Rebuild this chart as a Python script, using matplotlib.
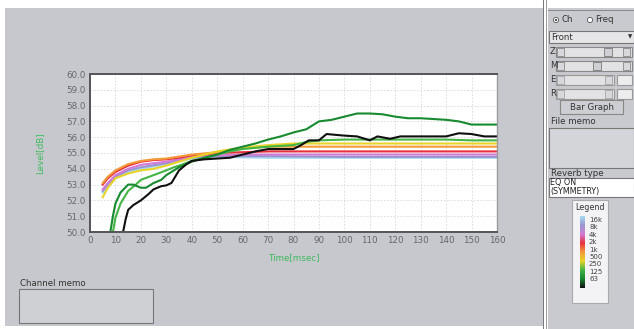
import matplotlib
matplotlib.use("Agg")
import matplotlib.pyplot as plt
from matplotlib.patches import Rectangle, Circle
from matplotlib.colors import LinearSegmentedColormap
import numpy as np

W, H = 634, 329

# --- data ---
bands = ["16k", "8k", "4k", "2k", "1k", "500", "250", "125", "63"]
band_colors = ["#a6d8f2", "#9a96d0", "#d27ad6", "#e8303c", "#f29a3a",
               "#e8d428", "#44b444", "#188a30", "#101010"]

t_16k = [5, 7, 10, 15, 20, 30, 40, 50, 70, 100, 160]
l_16k = [52.5, 52.9, 53.4, 53.8, 54.0, 54.3, 54.65, 54.75, 54.7, 54.7, 54.7]

t_8k = [5, 7, 10, 15, 20, 30, 40, 50, 70, 100, 160]
l_8k = [52.6, 53.0, 53.5, 53.9, 54.1, 54.35, 54.7, 54.8, 54.8, 54.75, 54.75]

t_4k = [5, 7, 10, 15, 20, 25, 30, 40, 50, 60, 100, 160]
l_4k = [52.7, 53.1, 53.6, 54.0, 54.25, 54.35, 54.45, 54.75, 54.85, 54.9, 54.9, 54.9]

t_2k = [5, 7, 10, 15, 20, 25, 30, 35, 40, 45, 50, 60, 70, 120, 160]
l_2k = [53.0, 53.4, 53.8, 54.2, 54.45, 54.55, 54.6, 54.7, 54.85, 54.9, 55.0,
        55.05, 55.1, 55.1, 55.1]

t_1k = [5, 7, 10, 15, 20, 25, 30, 40, 50, 60, 70, 80, 160]
l_1k = [53.1, 53.5, 53.9, 54.3, 54.5, 54.6, 54.65, 54.9, 55.05, 55.3, 55.4, 55.4, 55.4]

t_500 = [5, 7, 10, 15, 20, 25, 30, 40, 50, 60, 70, 80, 90, 160]
l_500 = [52.2, 52.8, 53.4, 53.7, 53.9, 54.0, 54.2, 54.7, 55.1, 55.35, 55.5,
         55.6, 55.6, 55.6]

t_250 = [9, 10, 12, 15, 18, 20, 25, 30, 33, 35, 40, 45, 50, 55, 60, 70, 80,
         85, 90, 100, 110, 120, 130, 140, 150, 160]
l_250 = [50.0, 50.9, 51.8, 52.6, 53.0, 53.3, 53.6, 53.9, 54.1, 54.2, 54.5,
         54.7, 54.9, 55.1, 55.25, 55.4, 55.5, 55.7, 55.8, 55.85, 55.85, 55.85,
         55.85, 55.85, 55.8, 55.8]

t_125 = [8, 9, 10, 12, 15, 17, 20, 22, 25, 28, 30, 35, 40, 45, 50, 55, 60,
         65, 70, 75, 80, 85, 90, 95, 100, 105, 110, 115, 120, 125, 130, 135,
         140, 145, 150, 155, 160]
l_125 = [50.0, 51.0, 51.8, 52.5, 53.0, 53.0, 52.8, 52.8, 53.1, 53.3, 53.6,
         54.1, 54.45, 54.7, 54.9, 55.2, 55.4, 55.6, 55.85, 56.05, 56.3, 56.5,
         57.0, 57.1, 57.3, 57.5, 57.5, 57.45, 57.3, 57.2, 57.2, 57.15, 57.1,
         57.0, 56.8, 56.8, 56.8]

t_63 = [13, 14, 15, 17, 20, 23, 25, 28, 30, 32, 35, 38, 40, 45, 50, 55, 60,
        65, 70, 75, 80, 83, 86, 90, 93, 100, 105, 110, 113, 118, 122, 130,
        140, 145, 150, 155, 160]
l_63 = [50.0, 50.8, 51.4, 51.7, 52.0, 52.4, 52.7, 52.9, 52.95, 53.1, 53.9,
        54.3, 54.5, 54.6, 54.65, 54.7, 54.9, 55.1, 55.25, 55.25, 55.25, 55.5,
        55.8, 55.8, 56.2, 56.1, 56.05, 55.8, 56.05, 55.9, 56.05, 56.05, 56.05,
        56.25, 56.2, 56.05, 56.05]

series = [(t_16k, l_16k), (t_8k, l_8k), (t_4k, l_4k), (t_2k, l_2k),
          (t_1k, l_1k), (t_500, l_500), (t_250, l_250), (t_125, l_125),
          (t_63, l_63)]

x_ticks = np.arange(0, 161, 10)
y_ticks = np.arange(50, 60.1, 1)

BG = "#c7c8cd"

fig = plt.figure(figsize=(W / 100, H / 100), dpi=100)
fig.patch.set_facecolor("white")

# UI layer in pixel coordinates
ui = fig.add_axes([0, 0, 1, 1])
ui.set_xlim(0, W)
ui.set_ylim(H, 0)
ui.axis("off")


def box(x, y, w, h, fc, ec=None, lw=0.8):
    ui.add_patch(Rectangle((x, y), w, h, facecolor=fc,
                           edgecolor=ec if ec else "none", linewidth=lw))


def label(x, y, s, size=6.2, **kw):
    kw.setdefault("color", "#333333")
    kw.setdefault("va", "center")
    ui.text(x, y, s, fontsize=size, **kw)


# main panel
box(5, 8, 538, 318, BG)
# separator and right panel
box(543, 0, 1.2, H, "#7a7a7e")
box(546, 0, 1.0, H, "#9a9a9e")
box(548, 8, 86, 321, "#c9cacf")
box(548, 10, 86, 0.8, "#8a8a8e")

# radio buttons
ui.add_patch(Circle((556, 20), 2.6, facecolor="white", edgecolor="#555", lw=0.6))
ui.add_patch(Circle((556, 20), 1.0, facecolor="#222", edgecolor="none"))
label(561, 20, "Ch")
ui.add_patch(Circle((590, 20), 2.6, facecolor="white", edgecolor="#555", lw=0.6))
label(595, 20, "Freq")

# dropdown
box(549, 31, 85, 12, "#e6e6e8", "#777")
label(551, 37, "Front")
label(628, 37, "\u25bc", size=4)

# sliders
for i, (name, long_track) in enumerate([("Z", True), ("M", True), ("E", False), ("R", False)]):
    y = 52 + i * 14
    label(550, y, name)
    if long_track:
        box(556, y - 5, 76, 10, "#e2e2e4", "#888")
        box(557, y - 4, 7, 8, "#d8d8dc", "#777", 0.5)
        box(623, y - 4, 7, 8, "#d8d8dc", "#777", 0.5)
        box(604 if name == "Z" else 593, y - 4, 8, 8, "#cfd0d4", "#666", 0.5)
    else:
        box(556, y - 5, 58, 10, "#e2e2e4", "#999")
        box(557, y - 4, 7, 8, "#d8d8dc", "#999", 0.5)
        box(605, y - 4, 7, 8, "#d8d8dc", "#999", 0.5)
        box(617, y - 5, 15, 10, "#ededee", "#999")

# bar graph button
box(560, 100, 63, 14, "#cdced2", "#888")
label(591.5, 107, "Bar Graph", ha="center")

# file memo
label(551, 122, "File memo")
box(549, 128, 85, 40, "#d4d5d9", "#777")

# reverb type
label(551, 173, "Reverb type")
box(549, 178, 85, 19, "white", "#777")
label(550, 182.5, "EQ ON", size=5.8, color="#222")
label(550, 191.5, "(SYMMETRY)", size=5.8, color="#222")

# legend panel
box(572, 200, 36, 103, "#f3f3f5", "#aaa")
label(590, 207.5, "Legend", ha="center", size=5.8)
cmap = LinearSegmentedColormap.from_list("bands", band_colors)
ui.imshow(np.linspace(0, 1, 100).reshape(-1, 1), cmap=cmap, aspect="auto",
          extent=(580, 584.5, 288, 216), zorder=3)
ui.set_xlim(0, W)
ui.set_ylim(H, 0)
for i, b in enumerate(bands):
    label(589, 220 + i * 7.4, b, size=5.0, color="#444")

# channel memo
label(20, 283, "Channel memo")
box(19, 289, 134, 34, "#cfd0d4", "#777")

# --- chart ---
ax = fig.add_axes([90 / W, (H - 232) / H, 407 / W, 158 / H])
ax.set_facecolor("white")
for (t, lv), c in zip(series, band_colors):
    ax.plot(t, lv, color=c, lw=1.5, solid_joinstyle="round", clip_on=True)

ax.set_xlim(0, 160)
ax.set_ylim(50, 60)
ax.set_xticks(x_ticks)
ax.set_yticks(y_ticks)
ax.set_xticklabels([str(v) for v in x_ticks])
ax.set_yticklabels([f"{v:.1f}" for v in y_ticks])
ax.tick_params(length=0, labelsize=6.3, labelcolor="#66666c", pad=3)
ax.grid(True, color="#d8d8dc", lw=0.6, ls=(0, (2, 2)))
ax.set_axisbelow(True)
for side in ["left", "bottom", "top"]:
    ax.spines[side].set_color("#555559")
    ax.spines[side].set_linewidth(1.4)
ax.spines["right"].set_color("#9a9a9e")
ax.spines["right"].set_linewidth(1.0)

ax.set_xlabel("Time[msec]", fontsize=6.3, color="#3cbc5c", labelpad=6)
ax.set_ylabel("Level[dB]", fontsize=6.3, color="#3cbc5c", labelpad=16)

fig.savefig("out.png", dpi=100, facecolor=fig.get_facecolor())
